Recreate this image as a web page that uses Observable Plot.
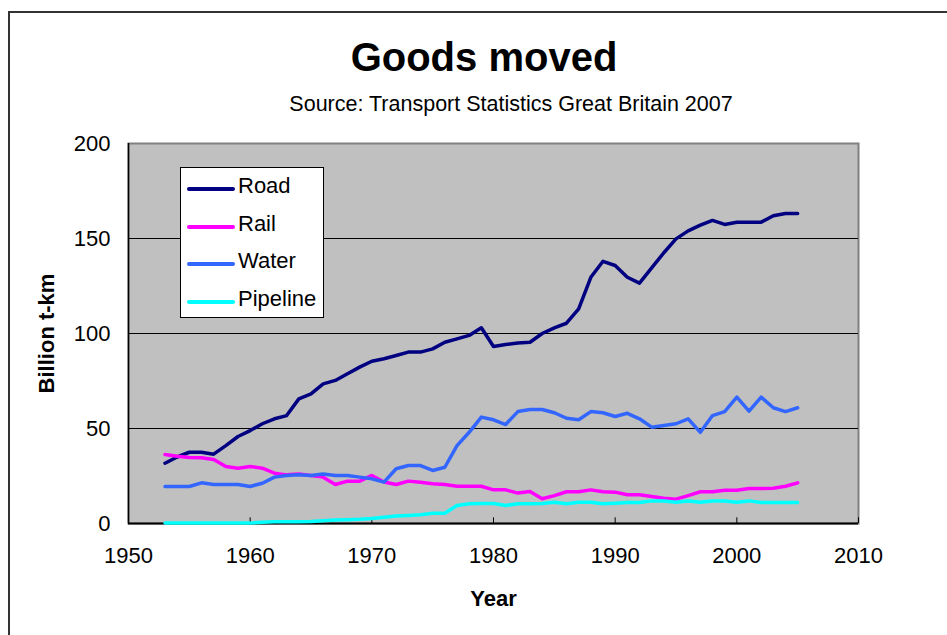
<!DOCTYPE html>
<html>
<head>
<meta charset="utf-8">
<script src="https://cdn.jsdelivr.net/npm/d3@7"></script>
<script src="https://cdn.jsdelivr.net/npm/@observablehq/plot@0.6"></script>
<style>
  html, body { margin: 0; padding: 0; background: #fff; }
  #page { position: relative; width: 947px; height: 635px; overflow: hidden; background: #fff;
          font-family: "Liberation Sans", Arial, sans-serif; color: #000; }
  #frame { position: absolute; left: 8px; top: 11px; width: 1000px; height: 700px;
           border-left: 2px solid #333; border-top: 2px solid #333; }
  #title { position: absolute; left: 0; width: 968px; top: 37px; text-align: center;
           font-size: 40px; line-height: 40px; font-weight: bold; }
  #subtitle { position: absolute; left: 0; width: 1022px; top: 94px; text-align: center;
              font-size: 21.5px; line-height: 21px; }
  #chart { position: absolute; left: 0; top: 120px; }
  #chart svg { font-family: "Liberation Sans", Arial, sans-serif; }
  #chart g[aria-label="y-axis label"] text, #chart g[aria-label="x-axis label"] text { font-weight: bold; }
  #legend { position: absolute; left: 180px; top: 167px; width: 142px; height: 147px;
            background: #fff; border: 1px solid #000; padding-top: 2px; box-sizing: content-box; }
  .item { position: relative; height: 37.5px; }
  .item svg { position: absolute; left: 6px; top: 0; }
  .item span { position: absolute; left: 57px; top: -1px; line-height: 34px; font-size: 22px; }
</style>
</head>
<body>
<div id="page">
  <div id="frame"></div>
  <div id="title">Goods moved</div>
  <div id="subtitle">Source: Transport Statistics Great Britain 2007</div>
  <div id="chart"></div>
  <div id="legend"></div>
</div>
<script>
const years = [1953,1954,1955,1956,1957,1958,1959,1960,1961,1962,
  1963,1964,1965,1966,1967,1968,1969,1970,1971,1972,
  1973,1974,1975,1976,1977,1978,1979,1980,1981,1982,
  1983,1984,1985,1986,1987,1988,1989,1990,1991,1992,
  1993,1994,1995,1996,1997,1998,1999,2000,2001,2002,
  2003,2004,2005];

const road = [31.7,35,37.5,37.5,36.5,41,45.8,48.9,52.5,55.1,
  56.8,65.6,68.2,73.5,75.3,78.8,82.3,85.4,86.7,88.4,
  90.2,90.2,91.9,95.4,97.2,99,103,93.2,94.2,95,
  95.4,100,103,105.4,113,129.6,138,135.8,129.6,126.5,
  134.5,142.5,149.8,154,157,159.5,157.4,158.6,158.6,158.6,
  162,163.2,163.2];

const rail = [36.3,35.4,34.7,34.6,33.7,30,29.1,30,29.1,26.5,
  25.6,26.1,25.3,24.4,20.5,22.3,22.3,25.3,21.8,20.5,
  22.3,21.7,20.9,20.5,19.6,19.6,19.6,17.7,17.7,16,
  16.8,13,14.7,16.7,16.7,17.7,16.7,16.5,15.1,15.1,
  14.2,13.3,12.8,14.7,16.7,16.7,17.5,17.5,18.4,18.4,
  18.6,19.6,21.4];

const water = [19.5,19.5,19.5,21.4,20.5,20.5,20.5,19.5,21.2,24.4,
  25.3,25.6,25.3,26.1,25.3,25.3,24.4,23.5,21.8,28.8,
  30.5,30.5,27.9,29.6,41,48,56,54.6,52.1,58.9,
  60,60,58.3,55.4,54.6,58.9,58.3,56.3,58,55.1,
  50.7,51.6,52.5,55.1,48,56.8,58.9,66.5,59.1,66.5,
  60.9,58.9,60.9];

const pipeline = [0.2,0.2,0.2,0.2,0.2,0.2,0.2,0.2,0.7,0.9,
  0.9,0.9,1,1.5,1.8,2,2.2,2.6,3.3,3.9,
  4.2,4.6,5.4,5.4,9.5,10.4,10.5,10.5,9.5,10.4,
  10.4,10.5,11.2,10.4,11.2,11.2,10.4,10.7,11,11,
  11.9,11.9,11.2,11.9,11.2,11.9,11.9,11.2,11.9,11,
  11,11,11];

const seriesNames = ["Road", "Rail", "Water", "Pipeline"];
const seriesColors = ["#000080", "#FF00FF", "#3366FF", "#00FFFF"];
const xTicks = [1950, 1960, 1970, 1980, 1990, 2000, 2010];
const yTicks = [0, 50, 100, 150, 200];
const gridValues = [50, 100, 150];

const seriesValues = [road, rail, water, pipeline];
const rows = [];
seriesNames.forEach((name, i) => {
  years.forEach((yr, j) => rows.push({series: name, year: yr, value: seriesValues[i][j]}));
});

const chart = Plot.plot({
  width: 947,
  height: 515,
  marginTop: 23,
  marginBottom: 112,
  marginLeft: 128,
  marginRight: 89,
  style: {fontSize: "22px", fontFamily: "'Liberation Sans', Arial, sans-serif", color: "#000", background: "transparent"},
  x: {domain: [1950, 2010], ticks: xTicks, tickFormat: d => String(d), tickSize: 0, tickPadding: 24,
      label: "Year", labelAnchor: "center", labelOffset: 82, labelArrow: "none"},
  y: {domain: [0, 200], ticks: yTicks, tickSize: 0, tickPadding: 18,
      label: "Billion t-km", labelAnchor: "center", labelOffset: 90, labelArrow: "none"},
  color: {domain: seriesNames, range: seriesColors},
  marks: [
    Plot.frame({fill: "#C0C0C0", stroke: "#808080", strokeWidth: 2}),
    Plot.ruleY(gridValues, {stroke: "#000", strokeWidth: 1}),
    Plot.ruleX(xTicks, {x: d => d, y1: 0, y2: 3, stroke: "#000", strokeWidth: 1}),
    Plot.ruleY([0], {stroke: "#000", strokeWidth: 2}),
    Plot.ruleX([1950], {stroke: "#000", strokeWidth: 1.5}),
    Plot.line(rows, {x: "year", y: "value", z: "series", stroke: "series", strokeWidth: 3.5,
                     strokeLinejoin: "round", strokeLinecap: "round"})
  ]
});
document.getElementById("chart").appendChild(chart);

const legend = document.getElementById("legend");
seriesNames.forEach((name, i) => {
  const item = document.createElement("div");
  item.className = "item";
  item.innerHTML = `<svg width="50" height="38"><line x1="2" y1="19" x2="46" y2="19" stroke="${seriesColors[i]}" stroke-width="4" stroke-linecap="round"/></svg><span>${name}</span>`;
  legend.appendChild(item);
});
</script>
</body>
</html>
